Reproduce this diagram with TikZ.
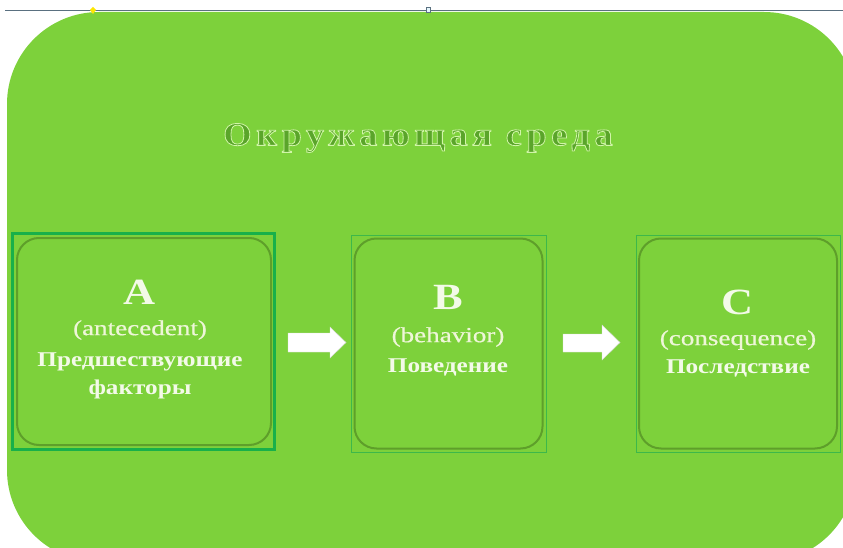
\documentclass[tikz,border=0pt]{standalone}
\usepackage{fontspec}
\setmainfont{Liberation Serif}
\newfontfamily\titlefont[LetterSpace=14,FakeStretch=1.1]{Liberation Serif}
\newfontfamily\boxfont[FakeStretch=1.2]{Liberation Serif}
\newfontfamily\engfont[FakeStretch=1.26,FakeBold=0.6]{Liberation Serif}
\definecolor{bggreen}{HTML}{7DD13B}
\definecolor{titlefill}{HTML}{5AA52A}
\definecolor{txt}{HTML}{F3FAE8}
\definecolor{engtxt}{HTML}{EEF6D8}
\definecolor{borderA}{HTML}{18B04A}
\definecolor{borderBC}{HTML}{3DB84A}
\definecolor{inneredge}{HTML}{5E9F2A}
\definecolor{topline}{HTML}{5A7080}
\newcommand{\outlinetext}[1]{\special{pdf:literal q 2 Tr 0.8 w 0.82 0.96 0.66 RG}#1\special{pdf:literal Q}}
\tikzset{
  outerbox/.style={draw=borderBC, line width=0.8pt},
  outerboxA/.style={draw=borderA, line width=3pt},
  innerbox/.style={draw=inneredge, line width=2pt, rounded corners=22pt, fill=bggreen},
  letter/.style={text=txt, font=\boxfont\bfseries\fontsize{37}{37}\selectfont, inner sep=0pt},
  eng/.style={text=engtxt, font=\engfont\fontsize{21.5}{21.5}\selectfont, inner sep=0pt},
  rus/.style={text=txt, font=\boxfont\bfseries\fontsize{21}{21}\selectfont, inner sep=0pt},
  blockarrow/.style={fill=white, draw=black!15, line width=0.4pt},
  titletext/.style={font=\titlefont\bfseries\fontsize{33}{33}\selectfont, inner sep=0pt}
}
\begin{document}
\begin{tikzpicture}[x=1pt,y=-1pt]
\useasboundingbox (0,0) rectangle (843,548);
\fill[white] (0,0) rectangle (843,548);
% environment
\fill[bggreen, rounded corners=92pt] (7,12) rectangle (856,562);
\draw[topline, line width=0.8pt] (5,10) -- (843,10);
\fill[yellow!90!orange] (93,7) -- (96,10) -- (93,14) -- (90,10) -- cycle;
\filldraw[fill=cyan!10, draw=topline, line width=0.4pt] (426,7) rectangle (430,12);
% title
\node[titletext, text=titlefill] (title) at (418,138) {\outlinetext{Окружающая среда}};
% boxes
\node[outerboxA, minimum width=262pt, minimum height=216pt] (A) at (143.5,341) {};
\node[innerbox, minimum width=254pt, minimum height=207pt] (Ai) at (144,341.5) {};
\node[outerbox, minimum width=195pt, minimum height=217pt] (B) at (448.5,343.5) {};
\node[innerbox, minimum width=188pt, minimum height=210pt] (Bi) at (448.5,343.5) {};
\node[outerbox, minimum width=204pt, minimum height=217pt] (C) at (738,343.5) {};
\node[innerbox, minimum width=198pt, minimum height=210pt] (Ci) at (738,343.5) {};
% texts A
\node[letter] (Al) at (140,292) {A};
\node[eng] (Ae) at (140,330) {(antecedent)};
\node[rus] (Ar1) at (140,362) {Предшествующие};
\node[rus] (Ar2) at (140,389) {факторы};
% texts B
\node[letter] (Bl) at (448,297) {B};
\node[eng] (Be) at (448,337) {(behavior)};
\node[rus] (Br) at (448,367) {Поведение};
% texts C
\node[letter] (Cl) at (738,302) {C};
\node[eng] (Ce) at (738,340) {(consequence)};
\node[rus] (Cr) at (738,368) {Последствие};
% arrows
\draw[blockarrow] (288,333) -- (330,333) -- (330,327) -- (346,342.5) -- (330,358) -- (330,352) -- (288,352) -- cycle;
\draw[blockarrow] (563,334) -- (602,334) -- (602,325) -- (620,342.5) -- (602,360) -- (602,352) -- (563,352) -- cycle;
\end{tikzpicture}
\end{document}
